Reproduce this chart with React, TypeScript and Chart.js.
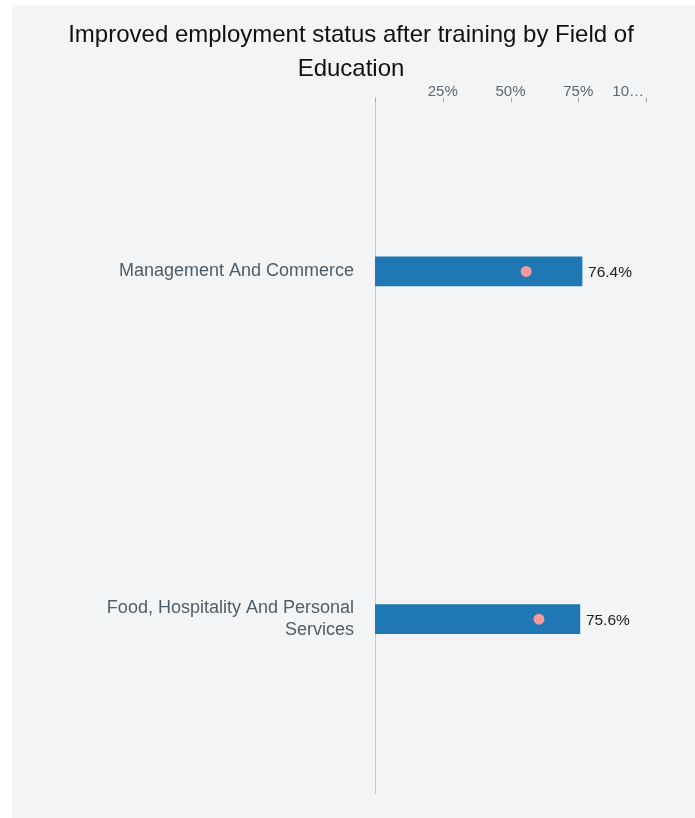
import React, { useEffect, useRef } from "react";
import { Chart, registerables } from "chart.js";

Chart.register(...registerables);

const categories: (string | string[])[] = [
  "Management And Commerce",
  ["Food, Hospitality And Personal", "Services"],
];
const actualValues = [76.4, 75.6];
const benchmarkValues = [55.8, 60.5];
const xTicks = [0, 25, 50, 75, 100];
const xTickLabels = ["", "25%", "50%", "75%", "10…"];
const titleLines = [
  "Improved employment status after training by Field of",
  "Education",
];

const FONT = "'Liberation Sans', Arial, Helvetica, sans-serif";
const TICK_COLOR = "#5b6872";

const barLabelPlugin = {
  id: "barLabels",
  afterDatasetsDraw(chart: any) {
    const meta = chart.getDatasetMeta(0);
    const ctx = chart.ctx;
    ctx.save();
    ctx.font = `15.5px ${FONT}`;
    ctx.fillStyle = "#222";
    ctx.textAlign = "left";
    ctx.textBaseline = "middle";
    meta.data.forEach((bar: any, i: number) => {
      ctx.fillText(actualValues[i].toFixed(1) + "%", bar.x + 6, bar.y + 1.5);
    });
    ctx.restore();
  },
};

const tickMarkPlugin = {
  id: "tickMarks",
  afterDraw(chart: any) {
    const x = chart.scales.x;
    const top = chart.chartArea.top;
    const ctx = chart.ctx;
    ctx.save();
    ctx.strokeStyle = "#a9adb2";
    ctx.lineWidth = 1;
    xTicks.forEach((v) => {
      const px = Math.round(x.getPixelForValue(v)) + 0.5;
      ctx.beginPath();
      ctx.moveTo(px, top);
      ctx.lineTo(px, top + 5);
      ctx.stroke();
    });
    ctx.font = `15px ${FONT}`;
    ctx.fillStyle = TICK_COLOR;
    ctx.textBaseline = "alphabetic";
    xTicks.forEach((v, i) => {
      const label = xTickLabels[i];
      if (!label) return;
      const px = x.getPixelForValue(v);
      const isLast = i === xTicks.length - 1;
      ctx.textAlign = isLast ? "right" : "center";
      ctx.fillText(label, isLast ? px - 2 : px, top - 2);
    });
    ctx.restore();
  },
};

export default function App() {
  const ref = useRef<HTMLCanvasElement>(null);
  useEffect(() => {
    if (!ref.current) return;
    const chart = new Chart(ref.current, {
      type: "bar",
      data: {
        labels: categories as any,
        datasets: [
          {
            type: "bar",
            data: actualValues,
            backgroundColor: "#1f77b4",
            barThickness: 29,
            order: 2,
          } as any,
          {
            type: "line",
            indexAxis: "y",
            data: benchmarkValues,
            showLine: false,
            pointRadius: 5.5,
            pointBackgroundColor: "#f59a9a",
            pointBorderWidth: 0,
            borderColor: "#f59a9a",
            order: 1,
          } as any,
        ],
      },
      options: {
        indexAxis: "y",
        animation: false,
        responsive: false,
        layout: { padding: { top: 0, bottom: 25, left: 0, right: 5 } },
        plugins: {
          legend: { display: false },
          tooltip: { enabled: false },
          title: {
            display: true,
            text: titleLines,
            color: "#111",
            font: { family: FONT, size: 24, weight: "normal", lineHeight: 34 / 24 },
            padding: { top: 13, bottom: -7.5 },
          },
        },
        scales: {
          x: {
            position: "top",
            min: 0,
            max: 100,
            afterBuildTicks: (scale: any) => {
              scale.ticks = xTicks.map((v) => ({ value: v }));
            },
            afterFit: (scale: any) => {
              scale.paddingLeft = 0;
              scale.paddingRight = 49;
            },
            grid: { display: false, drawTicks: false },
            border: { display: false },
            ticks: {
              padding: 2,
              maxRotation: 0,
              autoSkip: false,
              color: "rgba(0,0,0,0)",
              font: { family: FONT, size: 15, lineHeight: 1 },
              callback: (v: any) => (v === 0 ? "" : v + "%"),
            },
          },
          y: {
            grid: { display: false },
            border: { display: true, color: "#c9cbce", width: 1 },
            afterFit: (scale: any) => {
              scale.width = 363;
              scale.paddingTop = 0;
              scale.paddingBottom = 0;
            },
            ticks: {
              padding: 13,
              color: "#4e5d68",
              font: { family: FONT, size: 18, lineHeight: 1.26 },
            },
          },
        },
      } as any,
      plugins: [barLabelPlugin, tickMarkPlugin],
    });
    return () => chart.destroy();
  }, []);

  return (
    <div
      style={{
        position: "absolute",
        left: 12,
        top: 5,
        width: 683,
        height: 813,
        background: "#f3f4f6",
      }}
    >
      <canvas ref={ref} width={683} height={813} style={{ display: "block" }} />
    </div>
  );
}
